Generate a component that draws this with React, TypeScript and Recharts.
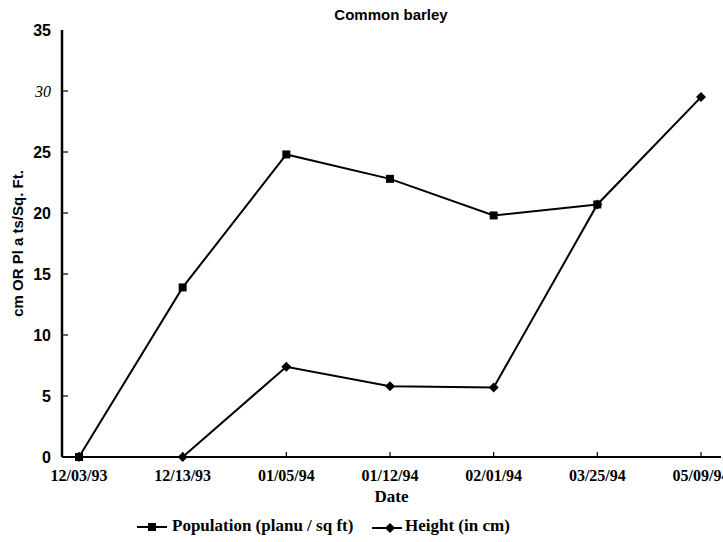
import React from 'react';
import { LineChart, Line, XAxis, YAxis, Legend } from 'recharts';

const dates = ['12/03/93', '12/13/93', '01/05/94', '01/12/94', '02/01/94', '03/25/94', '05/09/94'];
const population = [0, 13.9, 24.8, 22.8, 19.8, 20.7, null];
const heightCm = [0, 0, 7.4, 5.8, 5.7, 20.7, 29.5];
const yTicks = [0, 5, 10, 15, 20, 25, 30, 35];

const data = dates.map((d, i) => ({ date: d, population: population[i], height: heightCm[i] }));

const SERIF = '"Liberation Serif", "Times New Roman", serif';
const SANS = '"Liberation Sans", Arial, sans-serif';

const XTick = (props: any) => {
  const { x, y, payload } = props;
  return (
    <g>
      <line x1={x} x2={x} y1={y} y2={y - 5} stroke="#000" strokeWidth={1.2} />
      <text x={x} y={y + 24} textAnchor="middle" fontFamily={SERIF} fontWeight="bold" fontSize={16} fill="#000">
        {payload.value}
      </text>
    </g>
  );
};

const YTick = (props: any) => {
  const { x, y, payload } = props;
  const v = payload.value;
  const italic = v === 30;
  return (
    <g>
      {v !== 0 && v !== 35 && <line x1={x} x2={x + 6} y1={y} y2={y} stroke="#000" strokeWidth={1.2} />}
      <text
        x={x - 11}
        y={y}
        dy="0.36em"
        textAnchor="end"
        fontFamily={italic ? SERIF : SANS}
        fontStyle={italic ? 'italic' : 'normal'}
        fontWeight={italic ? 'normal' : 'bold'}
        fontSize={16}
        fill="#000"
      >
        {v}
      </text>
    </g>
  );
};

const SquareDot = (props: any) => {
  const { cx, cy, index } = props;
  if (cx == null || cy == null) return <g key={`s-${index}`} />;
  return <rect key={`s-${index}`} x={cx - 4} y={cy - 4} width={8} height={8} fill="#000" />;
};

const DiamondDot = (props: any) => {
  const { cx, cy, index } = props;
  if (cx == null || cy == null) return <g key={`d-${index}`} />;
  return (
    <polygon
      key={`d-${index}`}
      points={`${cx},${cy - 5} ${cx + 5},${cy} ${cx},${cy + 5} ${cx - 5},${cy}`}
      fill="#000"
    />
  );
};

const LegendContent = () => (
  <div style={{ position: 'relative', width: 723, height: 26 }}>
    <svg style={{ position: 'absolute', left: 137, top: 6 }} width={32} height={14}>
      <line x1={0} x2={30} y1={7} y2={7} stroke="#000" strokeWidth={2} />
      <rect x={11} y={3} width={8} height={8} fill="#000" />
    </svg>
    <span
      style={{
        position: 'absolute',
        left: 172,
        top: 2,
        fontFamily: SERIF,
        fontWeight: 'bold',
        fontSize: 17,
        whiteSpace: 'nowrap',
        color: '#000',
      }}
    >
      Population (planu / sq ft)
    </span>
    <svg style={{ position: 'absolute', left: 372, top: 6 }} width={32} height={14}>
      <line x1={0} x2={30} y1={8} y2={8} stroke="#000" strokeWidth={2} />
      <polygon points="18,3 23,8 18,13 13,8" fill="#000" />
    </svg>
    <span
      style={{
        position: 'absolute',
        left: 405,
        top: 2,
        fontFamily: SERIF,
        fontWeight: 'bold',
        fontSize: 17,
        whiteSpace: 'nowrap',
        color: '#000',
      }}
    >
      Height (in cm)
    </span>
  </div>
);

export default function App() {
  return (
    <div style={{ position: 'absolute', left: 0, top: 0, width: 723, height: 542, background: '#fff' }}>
      <div
        style={{
          position: 'absolute',
          left: 291,
          top: 5,
          width: 200,
          textAlign: 'center',
          fontFamily: SANS,
          fontWeight: 'bold',
          fontSize: 15,
          lineHeight: '20px',
          color: '#000',
          zIndex: 2,
        }}
      >
        Common barley
      </div>
      <LineChart width={723} height={542} data={data} margin={{ top: 30, right: 2, left: 0, bottom: 29 }}>
        <XAxis
          dataKey="date"
          height={30}
          padding={{ left: 17, right: 20 }}
          axisLine={{ stroke: '#000', strokeWidth: 2 }}
          tickLine={false}
          tickSize={0}
          tickMargin={0}
          tick={<XTick />}
          interval={0}
          label={{ value: 'Date', position: 'bottom', offset: 3, fontFamily: SERIF, fontWeight: 'bold', fontSize: 17, fill: '#000' }}
        />
        <XAxis
          xAxisId="top"
          dataKey="date"
          orientation="top"
          height={0}
          padding={{ left: 17, right: 20 }}
          axisLine={{ stroke: '#000', strokeWidth: 2 }}
          tick={false}
          tickLine={false}
        />
        <YAxis
          domain={[0, 35]}
          ticks={yTicks}
          width={62}
          axisLine={{ stroke: '#000', strokeWidth: 2.5 }}
          tickLine={false}
          tickSize={0}
          tickMargin={0}
          tick={<YTick />}
          interval={0}
          label={{ value: 'cm OR Pl a ts/Sq. Ft.', angle: -90, position: 'center', dx: -13, fontFamily: SANS, fontWeight: 'bold', fontSize: 15, fill: '#000' }}
        />
        <YAxis
          yAxisId="r"
          orientation="right"
          width={0}
          domain={[0, 35]}
          axisLine={{ stroke: '#000', strokeWidth: 2 }}
          tick={false}
          tickLine={false}
        />
        <Legend
          verticalAlign="bottom"
          wrapperStyle={{ position: 'absolute', left: 0, top: 514, width: 723, height: 26 }}
          content={<LegendContent />}
        />
        <Line
          type="linear"
          dataKey="population"
          name="Population (planu / sq ft)"
          stroke="#000"
          strokeWidth={2}
          dot={SquareDot}
          activeDot={false}
          isAnimationActive={false}
          connectNulls={false}
        />
        <Line
          type="linear"
          dataKey="height"
          name="Height (in cm)"
          stroke="#000"
          strokeWidth={2}
          dot={DiamondDot}
          activeDot={false}
          isAnimationActive={false}
        />
      </LineChart>
    </div>
  );
}
